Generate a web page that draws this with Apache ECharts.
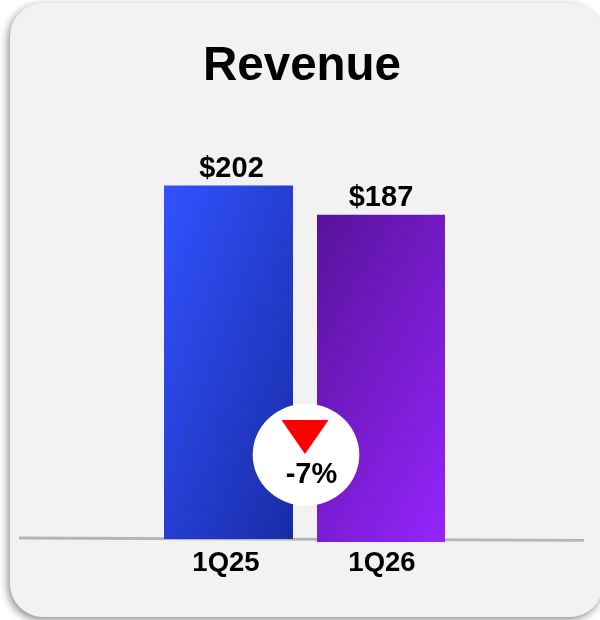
<!DOCTYPE html>
<html><head><meta charset="utf-8">
<style>html,body{margin:0;padding:0;background:#fff}#c{width:600px;height:620px}</style>
<script src="https://cdn.jsdelivr.net/npm/echarts@6/dist/echarts.min.js"></script>
</head><body><div id="c"></div>
<script>
const titleText = 'Revenue';
const categoriesA = ['1Q25'];
const categoriesB = ['1Q26'];
const valuesA = [202];
const valuesB = [187];
const changeLabel = '-7%';
const FONT = '"Liberation Sans", Arial, sans-serif';
const chart = echarts.init(document.getElementById('c'), null, {renderer:'canvas'});
function grad(a,b,x2,y2){return new echarts.graphic.LinearGradient(0,0,x2,y2,[{offset:0,color:a},{offset:1,color:b}]);}
function xAxis(i,cats,pad){return {gridIndex:i,type:'category',data:cats,axisLine:{show:false},axisTick:{show:false},
  axisLabel:{margin:i?7:10,fontFamily:FONT,fontWeight:'bold',fontSize:27.5,color:'#000',padding:pad}};}
function yAxis(i){return {gridIndex:i,type:'value',min:0,max:240,show:false};}
function bar(i,vals,fill,pad){return {type:'bar',xAxisIndex:i,yAxisIndex:i,data:vals,barWidth:'100%',z:5,
  itemStyle:{color:fill},
  label:{show:true,position:'top',distance:2,formatter:p=>'$'+p.value,fontFamily:FONT,fontWeight:'bold',fontSize:29,color:'#000',padding:pad}};}
chart.setOption({
  animation:false,
  backgroundColor:'#fff',
  title:{text:titleText,left:302,top:43,padding:0,textAlign:'center',textStyle:{fontFamily:FONT,fontWeight:'bold',fontSize:47.5,color:'#000'}},
  grid:[{left:164,width:129,top:119,height:420},{left:317,width:128,top:122,height:420}],
  xAxis:[xAxis(0,categoriesA,[0,5,0,0]),xAxis(1,categoriesB,[0,0,0,2])],
  yAxis:[yAxis(0),yAxis(1)],
  series:[bar(0,valuesA,grad('#3252ff','#15269a',2.0,0.27),[0,0,0,6]),bar(1,valuesB,grad('#58129a','#9625ff',1.9,0.42),[0,0,0,0])],
  graphic:[
    {type:'rect',z:-10,shape:{x:10,y:3,width:593,height:614,r:33},style:{fill:'#f2f2f2',shadowBlur:8,shadowOffsetX:-2,shadowOffsetY:3,shadowColor:'rgba(0,0,0,0.45)'}},
    {type:'line',z:-5,shape:{x1:19,y1:538,x2:584,y2:540.3},style:{stroke:'#b5b5b5',lineWidth:2.8}},
    {type:'ellipse',z:50,shape:{cx:306,cy:454.8,rx:53.3,ry:51},style:{fill:'#fff'}},
    {type:'polygon',z:51,shape:{points:[[281.5,420],[328.5,420],[305,454]]},style:{fill:'#ff0000'}},
    {type:'text',z:52,style:{x:311.5,y:475,text:changeLabel,align:'center',verticalAlign:'middle',font:'bold 29px '+FONT,fill:'#000'}}
  ]
});
</script></body></html>
